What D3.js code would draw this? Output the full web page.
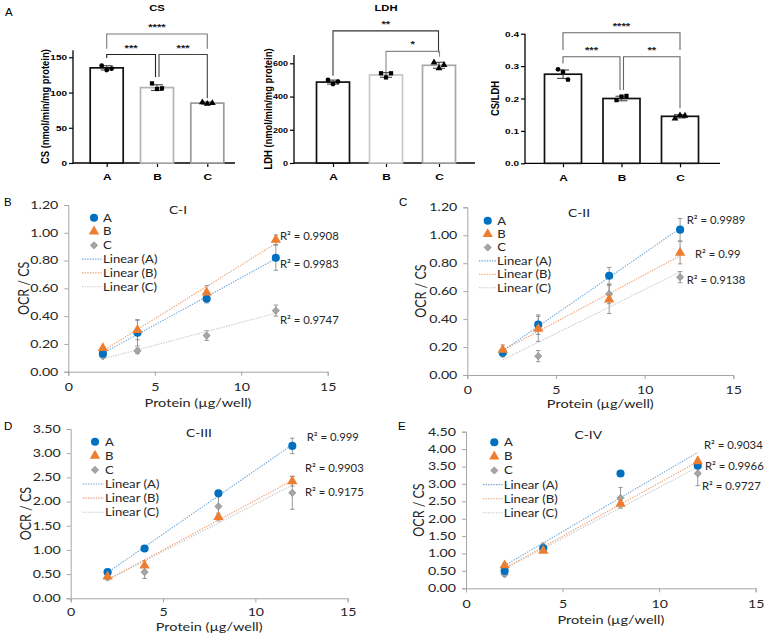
<!DOCTYPE html>
<html><head><meta charset="utf-8">
<script src="https://cdn.jsdelivr.net/npm/d3@7"></script>
<style>body{margin:0;background:#fff} svg{display:block}</style>
</head><body><svg id="c" width="764" height="634"></svg>
<script>
// ================= DATA: top row (bar charts) =================
const groups = ["A", "B", "C"];
const csMean = [135, 107, 85];
const csSD = [3, 4, 1.5];
const csPts = [[138, 132, 134], [113, 105, 106], [86, 84, 85]];
const csTicks = [0, 50, 100, 150];
const csSig = [
  {a: "A", b: "C", level: 183, endA: 162, endB: 162, label: "****"},
  {a: "A", b: "B", level: 154, endA: 149, endB: 122, label: "***"},
  {a: "B", b: "C", level: 154, endA: 122, endB: 92, label: "***"}
];
const ldhMean = [487, 530, 588];
const ldhSD = [12, 14, 18];
const ldhPts = [[500, 475, 490], [540, 515, 540], [605, 570, 590]];
const ldhTicks = [0, 200, 400, 600];
const ldhSig = [
  {a: "A", b: "C", level: 795, endA: 525, endB: 665, label: "**"},
  {a: "B", b: "C", level: 672, endA: 548, endB: 640, label: "*"}
];
const ratioMean = [0.275, 0.200, 0.145];
const ratioSD = [0.013, 0.007, 0.005];
const ratioPts = [[0.290, 0.282, 0.258], [0.195, 0.206, 0.208], [0.138, 0.148, 0.147]];
const ratioTicks = [0, 0.1, 0.2, 0.3, 0.4];
const ratioSig = [
  {a: "A", b: "C", level: 0.403, endA: 0.35, endB: 0.35, label: "****"},
  {a: "A", b: "B", level: 0.329, endA: 0.308, endB: 0.226, label: "***"},
  {a: "B", b: "C", level: 0.329, endA: 0.226, endB: 0.170, label: "**"}
];

// ================= DATA: OCR / CS panels =================
const protein = [2, 4, 8, 12];
const seriesNames = ["A", "B", "C"];
// C-I
const c1A = [0.13, 0.28, 0.525, 0.82], c1A_sd = [0.01, 0.095, 0.03, 0.09];
const c1B = [0.17, 0.30, 0.57, 0.95],  c1B_sd = [0.01, 0.07, 0.05, 0.035];
const c1C = [0.11, 0.15, 0.26, 0.44],  c1C_sd = [0.01, 0.02, 0.035, 0.04];
const c1R2 = ["0.9983", "0.9908", "0.9747"];
// C-II
const c2A = [0.16, 0.36, 0.71, 1.04],  c2A_sd = [0.02, 0.07, 0.06, 0.08];
const c2B = [0.18, 0.33, 0.54, 0.875], c2B_sd = [0.035, 0.09, 0.10, 0.08];
const c2C = [0.15, 0.135, 0.58, 0.70], c2C_sd = [0.02, 0.04, 0.07, 0.04];
const c2R2 = ["0.9989", "0.99", "0.9138"];
// C-III
const c3A = [0.54, 1.03, 2.17, 3.15],  c3A_sd = [0.05, 0.03, 0.05, 0.16];
const c3B = [0.45, 0.68, 1.68, 2.42],  c3B_sd = [0.05, 0.10, 0.08, 0.10];
const c3C = [0.43, 0.54, 1.90, 2.18],  c3C_sd = [0.05, 0.13, 0.20, 0.34];
const c3R2 = ["0.999", "0.9903", "0.9175"];
// C-IV
const c4A = [0.50, 1.15, 3.30, 3.52],  c4A_sd = [0.05, 0.05, 0.02, 0.05];
const c4B = [0.66, 1.08, 2.43, 3.65],  c4B_sd = [0.05, 0.05, 0.10, 0.05];
const c4C = [0.40, 1.20, 2.60, 3.30],  c4C_sd = [0.05, 0.10, 0.30, 0.35];
const c4R2 = ["0.9034", "0.9966", "0.9727"];
const xTicks = [0, 5, 10, 15];

// ================= RENDERING =================
const SX = 1.25;
const FP = "'Liberation Sans', Arial, sans-serif";
const FE = "Lato, 'Open Sans', sans-serif";
const svg = d3.select("#c");

function T(g, x, y, s, o = {}) {
  return g.append("text")
    .attr("transform", `translate(${x},${y}) scale(${o.sx ?? SX},1)` + (o.rot ? ` rotate(${o.rot})` : ""))
    .attr("text-anchor", o.anchor || "middle")
    .attr("dominant-baseline", "central")
    .attr("font-family", o.family || FP)
    .attr("font-size", o.size || 10)
    .attr("font-weight", o.weight || "normal")
    .attr("fill", o.fill || "#000")
    .text(s);
}

// ---------- Prism-like bar panels ----------
function prism(c) {
  const g = svg.append("g");
  const x = d3.scalePoint().domain(groups).range(c.xr);
  const y = d3.scaleLinear().domain(c.ydom).range(c.yr);
  const y0 = y(0);
  const ya = g.append("g").attr("transform", `translate(${c.ax},0)`)
    .call(d3.axisLeft(y).tickValues(c.ticks).tickSize(4).tickPadding(0.8).tickFormat(c.fmt));
  ya.select(".domain").remove();
  ya.selectAll("line").attr("stroke", "#000").attr("stroke-width", 1.2);
  ya.selectAll("text").attr("transform", `scale(${SX},1)`).attr("font-family", FP)
    .attr("font-size", c.tickSize).attr("font-weight", "bold").attr("fill", "#000");
  g.append("line").attr("x1", c.ax).attr("x2", c.ax).attr("y1", y0 + 0.6).attr("y2", y(c.ydom[1]))
    .attr("stroke", "#000").attr("stroke-width", 1.3);
  const xa = g.append("g").attr("transform", `translate(0,${y0})`)
    .call(d3.axisBottom(x).tickSize(4).tickPadding(6.6));
  xa.select(".domain").remove();
  xa.selectAll("line").attr("stroke", "#000").attr("stroke-width", 1.2);
  xa.selectAll("text").attr("transform", `scale(${SX},1)`).attr("font-family", FP)
    .attr("font-size", 9.5).attr("font-weight", "bold").attr("fill", "#000");
  g.append("line").attr("x1", c.ax).attr("x2", c.axEnd).attr("y1", y0).attr("y2", y0)
    .attr("stroke", "#000").attr("stroke-width", 1.3);
  groups.forEach((k, i) => {
    const cx = x(k);
    g.append("rect").attr("x", cx - c.bw / 2).attr("y", y(c.mean[i])).attr("width", c.bw)
      .attr("height", y0 - y(c.mean[i])).attr("fill", "#fff").attr("stroke", c.colors[i]).attr("stroke-width", 1.7);
    const eg = g.append("g").attr("stroke", "#444").attr("stroke-width", 1.1);
    eg.append("line").attr("x1", cx).attr("x2", cx).attr("y1", y(c.mean[i] - c.sd[i])).attr("y2", y(c.mean[i] + c.sd[i]));
    [c.mean[i] - c.sd[i], c.mean[i] + c.sd[i]].forEach(v =>
      eg.append("line").attr("x1", cx - 6).attr("x2", cx + 6).attr("y1", y(v)).attr("y2", y(v)));
    const sym = [d3.symbolCircle, d3.symbolSquare, d3.symbolTriangle][i];
    c.pts[i].forEach((v, j) => {
      g.append("path").attr("d", d3.symbol(sym, i === 2 ? 20 : 18)())
        .attr("transform", `translate(${cx + (j - 1) * 5},${y(v)})`).attr("fill", "#000");
    });
  });
  c.sig.forEach(s => {
    const xa_ = x(s.a) + (s.offA || 0), xb_ = x(s.b) + (s.offB || 0);
    g.append("path")
      .attr("d", `M${xa_},${y(s.endA)}V${y(s.level)}H${xb_}V${y(s.endB)}`)
      .attr("fill", "none").attr("stroke", s.color || "#333").attr("stroke-width", 1.1);
    T(g, (xa_ + xb_) / 2, y(s.level) - 7, s.label, {size: 9, weight: "bold", fill: "#222"});
  });
  if (c.title) T(g, c.title[1], c.title[2], c.title[0], {size: 9, weight: "bold"});
  T(g, c.ylab[1], (y0 + y(c.ydom[1])) / 2 + c.ylab[2], c.ylab[0], {size: 9.4, weight: "bold", rot: -90, sx: 1.2});
}

prism({
  xr: [106.7, 207.3], ax: 73, axEnd: 235, ydom: [0, 160], yr: [163, 50.25], ticks: csTicks,
  fmt: d3.format("d"), mean: csMean, sd: csSD, pts: csPts, bw: 33, tickSize: 8,
  colors: ["#111", "#b4b4b4", "#9a9a9a"],
  sig: csSig.map((s, i) => Object.assign({}, s, {
    color: ["#7a7a7a", "#222", "#444"][i], offA: [0, 0, 2][i], offB: [0, -1.5, 0][i]})),
  title: ["CS", 157, 8], ylab: ["CS (nmol/min/mg protein)", 45, 0]
});
prism({
  xr: [333, 439], ax: 294, axEnd: 475, ydom: [0, 650], yr: [163, 55], ticks: ldhTicks,
  fmt: d3.format("d"), mean: ldhMean, sd: ldhSD, pts: ldhPts, bw: 33, tickSize: 7.2,
  colors: ["#111", "#c8c8c8", "#a8a8a8"],
  sig: ldhSig.map((s, i) => Object.assign({}, s, {color: ["#333", "#888"][i], offB: [-0.5, 0.5][i]})),
  title: ["LDH", 386, 8], ylab: ["LDH (nmol/min/mg protein)", 268, 0]
});
prism({
  xr: [563, 680], ax: 525, axEnd: 720, ydom: [0, 0.4], yr: [163.3, 33.7], ticks: ratioTicks,
  fmt: d3.format(".1f"), mean: ratioMean, sd: ratioSD, pts: ratioPts, bw: 37, tickSize: 8,
  colors: ["#111", "#111", "#111"],
  sig: ratioSig.map((s, i) => Object.assign({}, s, {color: "#666", offA: [0, 0, 2][i], offB: [0, -1.5, 0][i]})),
  title: null, ylab: ["CS/LDH", 495, 0]
});
T(svg, 5, 12, "A", {size: 11.5, anchor: "start", sx: 1});

// ---------- Excel-like scatter panels ----------
function fit(xs, ys) {
  const mx = d3.mean(xs), my = d3.mean(ys);
  const sxy = d3.sum(xs, (v, i) => (v - mx) * (ys[i] - my));
  const sxx = d3.sum(xs, v => (v - mx) * (v - mx));
  const b = sxy / sxx;
  return {b, a: my - b * mx};
}
const markerCol = {A: "#0070c0", B: "#ed7d31", C: "#a5a5a5"};
const lineCol = {A: "#6fa8dc", B: "#f0a070", C: "#c8c8c8"};
const symbols = {A: d3.symbol(d3.symbolCircle, 52)(), B: d3.symbol(d3.symbolTriangle, 46)(), C: d3.symbol(d3.symbolSquare, 26)()};
function marker(g, k, px, py) {
  g.append("path").attr("d", symbols[k])
    .attr("transform", `translate(${px},${py})` + (k === "C" ? " rotate(45)" : ""))
    .attr("fill", markerCol[k]).attr("stroke", k === "C" ? "#808080" : "none").attr("stroke-width", 0.6);
}
const TSX = 1.35, TFS = 10.5;

function excel(c) {
  const g = svg.append("g");
  const x = d3.scaleLinear().domain([0, 15]).range([c.ax, c.xEnd]);
  const y = d3.scaleLinear().domain([0, c.ymax]).range([c.y0, c.yTop]);
  const axCol = "#a6a6a6";
  const ya = g.append("g").attr("transform", `translate(${c.ax},0)`)
    .call(d3.axisLeft(y).tickValues(c.yticks).tickSize(4).tickPadding(3.4).tickFormat(d3.format(".2f")));
  ya.select(".domain").attr("stroke", axCol);
  ya.selectAll("line").attr("stroke", axCol);
  ya.selectAll("text").attr("transform", `scale(${TSX},1)`).attr("font-family", FE).attr("font-size", TFS).attr("fill", "#262626");
  const xa = g.append("g").attr("transform", `translate(0,${c.y0})`)
    .call(d3.axisBottom(x).tickValues(xTicks).tickSize(4).tickPadding(c.tickDy - 4 - 3.7));
  xa.select(".domain").attr("stroke", axCol);
  xa.selectAll("line").attr("stroke", axCol);
  xa.selectAll("text").attr("transform", `scale(${TSX},1)`).attr("font-family", FE).attr("font-size", TFS).attr("fill", "#262626");
  T(g, (c.ax + c.xEnd) / 2, c.y0 + c.xTitleDy, "Protein (µg/well)", {family: FE, size: 11, sx: 1.32, fill: "#262626"});
  T(g, c.yTitleX, (c.y0 + c.yTop) / 2, "OCR / CS", {family: FE, size: 12.5, fill: "#262626", rot: -90, sx: 1.25});
  T(g, c.titlePos[0], c.titlePos[1], c.title, {family: FE, size: 11, fill: "#262626"});
  T(g, c.letterPos[0], c.letterPos[1], c.letter, {size: 11.5, anchor: "start", sx: 1});
  const S = c.series;
  ["C", "A", "B"].forEach(k => {
    protein.forEach((p, i) => {
      const v = S[k][i], e = S[k + "sd"][i];
      g.append("line").attr("x1", x(p)).attr("x2", x(p)).attr("y1", y(v - e)).attr("y2", y(v + e)).attr("stroke", "#8c8c8c").attr("stroke-width", 0.9);
      [v - e, v + e].forEach(w => g.append("line").attr("x1", x(p) - 2.2).attr("x2", x(p) + 2.2).attr("y1", y(w)).attr("y2", y(w)).attr("stroke", "#8c8c8c").attr("stroke-width", 0.9));
    });
  });
  ["C", "B", "A"].forEach(k => {
    const f = fit(protein, S[k]);
    g.append("path").attr("d", d3.line().x(d => x(d)).y(d => y(f.a + f.b * d))([2, 12]))
      .attr("stroke", lineCol[k]).attr("stroke-width", 1.1).attr("stroke-dasharray", "1.4,1.2").attr("fill", "none");
  });
  ["C", "A", "B"].forEach(k => protein.forEach((p, i) => marker(g, k, x(p), y(S[k][i]))));
  seriesNames.forEach((k, i) => T(g, c.r2pos[i][0], c.r2pos[i][1], "R² = " + c.r2[i], {family: FE, size: 10.5, sx: 1.08, anchor: "start", fill: "#262626"}));
  const L = c.legend;
  seriesNames.forEach((k, i) => {
    marker(g, k, L.mx, L.y0 + i * L.dy);
    T(g, L.tx, L.y0 + i * L.dy, k, {family: FE, size: 10.5, anchor: "start", fill: "#262626"});
  });
  seriesNames.forEach((k, i) => {
    const yy = L.y0 + (i + 3) * L.dy;
    g.append("line").attr("x1", L.lx1).attr("x2", L.lx2).attr("y1", yy).attr("y2", yy)
      .attr("stroke", lineCol[k]).attr("stroke-width", 1.1).attr("stroke-dasharray", "1.4,1.2");
    T(g, L.lx2 + 1, yy, `Linear (${k})`, {family: FE, size: 10.5, anchor: "start", fill: "#262626"});
  });
}

const ticks12 = [0, 0.2, 0.4, 0.6, 0.8, 1.0, 1.2];
const ticks35 = [0, 0.5, 1, 1.5, 2, 2.5, 3, 3.5];
const ticks45 = [0, 0.5, 1, 1.5, 2, 2.5, 3, 3.5, 4, 4.5];

excel({ax: 68.3, xEnd: 327.7, y0: 371.7, yTop: 205, ymax: 1.2, yticks: ticks12,
  title: "C-I", titlePos: [178, 210], letter: "B", letterPos: [4, 202],
  legend: {mx: 94, tx: 103, y0: 217.7, dy: 13.8, lx1: 82, lx2: 102},
  r2: c1R2, r2pos: [[280, 263.3], [280, 235.7], [280, 320]], tickDy: 16, xTitleDy: 31, yTitleX: 23,
  series: {A: c1A, Asd: c1A_sd, B: c1B, Bsd: c1B_sd, C: c1C, Csd: c1C_sd}});
excel({ax: 467.3, xEnd: 733.3, y0: 375, yTop: 207.3, ymax: 1.2, yticks: ticks12,
  title: "C-II", titlePos: [579, 212.7], letter: "C", letterPos: [399, 202],
  legend: {mx: 487.7, tx: 497.3, y0: 220.7, dy: 13.4, lx1: 479, lx2: 496},
  r2: c2R2, r2pos: [[686.7, 220], [695, 253.3], [686.7, 279.3]], tickDy: 15, xTitleDy: 29, yTitleX: 420,
  series: {A: c2A, Asd: c2A_sd, B: c2B, Bsd: c2B_sd, C: c2C, Csd: c2C_sd}});
excel({ax: 70.7, xEnd: 347.7, y0: 598.3, yTop: 429, ymax: 3.5, yticks: ticks35,
  title: "C-III", titlePos: [199, 433], letter: "D", letterPos: [4, 426],
  legend: {mx: 95, tx: 105, y0: 441.7, dy: 14.1, lx1: 82.7, lx2: 104},
  r2: c3R2, r2pos: [[306.7, 436.7], [305, 467.7], [305, 491.7]], tickDy: 14, xTitleDy: 28.3, yTitleX: 25,
  series: {A: c3A, Asd: c3A_sd, B: c3B, Bsd: c3B_sd, C: c3C, Csd: c3C_sd}});
excel({ax: 466, xEnd: 755.7, y0: 588.3, yTop: 431.7, ymax: 4.5, yticks: ticks45,
  title: "C-IV", titlePos: [588.3, 435], letter: "E", letterPos: [398, 426],
  legend: {mx: 494.3, tx: 504, y0: 442.3, dy: 14.1, lx1: 483, lx2: 502.7},
  r2: c4R2, r2pos: [[704, 445], [705, 466], [702, 486]], tickDy: 15.5, xTitleDy: 31.5, yTitleX: 418,
  series: {A: c4A, Asd: c4A_sd, B: c4B, Bsd: c4B_sd, C: c4C, Csd: c4C_sd}});
</script>
</body></html>
